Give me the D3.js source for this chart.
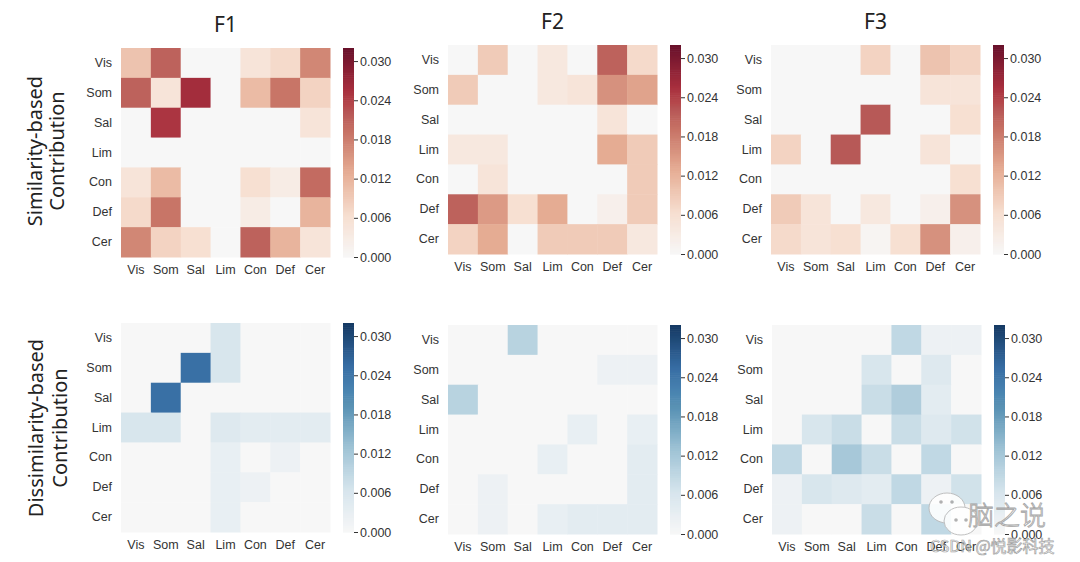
<!DOCTYPE html>
<html><head><meta charset="utf-8">
<script src="https://cdn.jsdelivr.net/npm/d3@7"></script>
<style>body{margin:0;background:#fff;} svg{display:block;}</style>
</head><body>
<svg id="chart" width="1080" height="562"></svg>
<script>
const labels = ["Vis","Som","Sal","Lim","Con","Def","Cer"];
const colTitles = ["F1","F2","F3"];
const rowTitles = [["Similarity-based","Contribution"],["Dissimilarity-based","Contribution"]];
const cbTicks = [0.000,0.006,0.012,0.018,0.024,0.030];
const vmax = 0.032;

const simF1 = [
 [0.010,0.021,0,0,0.005,0.007,0.017],
 [0.021,0.005,0.026,0,0.011,0.019,0.008],
 [0,0.025,0,0,0,0,0.005],
 [0,0,0,0,0,0,0],
 [0.005,0.011,0,0,0.006,0.003,0.020],
 [0.007,0.019,0,0,0.003,0,0.012],
 [0.017,0.008,0.006,0,0.021,0.012,0.005]];
const simF2 = [
 [0,0.009,0,0.004,0,0.021,0.007],
 [0.009,0,0,0.004,0.005,0.016,0.014],
 [0,0,0,0,0,0.005,0],
 [0.004,0.004,0,0,0,0.013,0.009],
 [0,0.005,0,0,0,0,0.009],
 [0.021,0.015,0.006,0.013,0,0.002,0.009],
 [0.008,0.013,0,0.009,0.009,0.009,0.004]];
const simF3 = [
 [0,0,0,0.008,0,0.010,0.008],
 [0,0,0,0,0,0.005,0.005],
 [0,0,0,0.022,0,0,0.006],
 [0.008,0,0.022,0,0,0.005,0],
 [0,0,0,0,0,0,0.006],
 [0.009,0.005,0,0.004,0,0.002,0.016],
 [0.007,0.005,0.006,0.001,0.006,0.016,0.002]];
const disF1 = [
 [0,0,0,0.006,0,0,0],
 [0,0,0.025,0.006,0,0,0],
 [0,0.025,0,0,0,0,0],
 [0.006,0.006,0,0.005,0.004,0.004,0.004],
 [0,0,0,0.003,0,0.002,0],
 [0,0,0,0.003,0.002,0,0],
 [0,0,0,0.003,0,0,0]];
const disF2 = [
 [0,0,0.010,0,0,0,0],
 [0,0,0,0,0,0.002,0.002],
 [0.010,0,0,0,0,0,0],
 [0,0,0,0,0.003,0,0.003],
 [0,0,0,0.003,0,0,0.004],
 [0,0.002,0,0,0,0,0.004],
 [0,0.002,0,0.003,0.004,0.004,0.004]];
const disF3 = [
 [0,0,0,0,0.009,0.002,0.002],
 [0,0,0,0.006,0,0.005,0],
 [0,0,0,0.008,0.011,0.004,0],
 [0,0.006,0.008,0,0.008,0.005,0.007],
 [0.009,0,0.012,0.008,0,0.009,0],
 [0.002,0.006,0.005,0.004,0.009,0.002,0.007],
 [0.002,0,0,0.008,0,0.009,0]];

const panels = [
 {data:simF1, kind:"red", x:121, y:48},
 {data:simF2, kind:"red", x:448, y:45},
 {data:simF3, kind:"red", x:771, y:45},
 {data:disF1, kind:"blue", x:121, y:323},
 {data:disF2, kind:"blue", x:448, y:325},
 {data:disF3, kind:"blue", x:772, y:325}];

const svg = d3.select("#chart");
const size = 209;
// matplotlib RdBu_r halves (linear segments), slightly muted like the reference image
const redStops = ["#f7f7f7","#fddbc7","#f4a582","#d6604d","#b2182b","#67001f"];
const blueStops = ["#f7f7f7","#d1e5f0","#92c5de","#4393c3","#2166ac","#053061"];
const mkScale = stops => {
  const s = d3.scaleLinear()
    .domain(stops.map((_,i)=>vmax*i/(stops.length-1)))
    .range(stops).interpolate(d3.interpolateRgb).clamp(true);
  return v => { const c = d3.hsl(s(v)); c.s *= 0.74; c.l = c.l + (1-c.l)*0.04; return c.formatHex(); };
};
const redScale = mkScale(redStops);
const blueScale = mkScale(blueStops);
const tickFont = "'Liberation Sans', Arial, sans-serif";

panels.forEach((p,pi)=>{
  const color = p.kind==="red" ? redScale : blueScale;
  const g = svg.append("g").attr("transform",`translate(${p.x},${p.y})`);
  const x = d3.scaleBand().domain(labels).range([0,size]);
  const y = d3.scaleBand().domain(labels).range([0,size]);
  p.data.forEach((row,ri)=>{
    row.forEach((v,ci)=>{
      g.append("rect")
        .attr("x",x(labels[ci])).attr("y",y(labels[ri]))
        .attr("width",x.bandwidth()+0.5).attr("height",y.bandwidth()+0.5)
        .attr("fill",color(v));
    });
  });
  const xa = g.append("g").attr("transform",`translate(0,${size})`)
    .call(d3.axisBottom(x).tickSize(0).tickPadding(8));
  const ya = g.append("g").call(d3.axisLeft(y).tickSize(0).tickPadding(9));
  [xa,ya].forEach(a=>{
    a.select(".domain").remove();
    a.selectAll("text").attr("font-family",tickFont).attr("font-size",12.5).attr("fill","#333");
  });
  // colorbar
  const cbx = 222, cbw = 11;
  const cs = d3.scaleLinear().domain([0,vmax]).range([size,0]);
  const n = 100;
  const cb = g.append("g").attr("transform",`translate(${cbx},0)`);
  d3.range(n).forEach(i=>{
    const v0 = vmax*i/n, v1 = vmax*(i+1)/n;
    cb.append("rect").attr("x",0).attr("width",cbw)
      .attr("y",cs(v1)).attr("height",cs(v0)-cs(v1)+0.6)
      .attr("fill",color((v0+v1)/2));
  });
  const ca = cb.append("g").attr("transform",`translate(${cbw},0)`)
    .call(d3.axisRight(cs).tickValues(cbTicks).tickFormat(d3.format(".3f")).tickSize(4).tickPadding(2));
  ca.select(".domain").remove();
  ca.selectAll("line").attr("stroke","#333");
  ca.selectAll("text").attr("font-family",tickFont).attr("font-size",12.5).attr("fill","#333");
  if(pi<3){
    svg.append("text").attr("x",p.x+size/2).attr("y",p.y-16)
      .attr("text-anchor","middle").attr("font-family","'Noto Sans', sans-serif")
      .attr("font-size",21).attr("fill","#222").text(colTitles[pi]);
  }
});

// row titles
[[35,57,151],[36,60,428]].forEach((pos,ri)=>{
  rowTitles[ri].forEach((t,li)=>{
    svg.append("text")
      .attr("transform",`translate(${pos[li]+7},${pos[2]}) rotate(-90)`)
      .attr("text-anchor","middle").attr("font-family","'Noto Sans', sans-serif")
      .attr("font-size",20).attr("fill","#222").text(t);
  });
});

// watermark (overlay present in the reference image)
const wm = svg.append("g").attr("opacity",0.9);
wm.append("ellipse").attr("cx",947).attr("cy",508).attr("rx",18).attr("ry",15).attr("fill","#fff").attr("stroke","#bbb").attr("stroke-width",1);
wm.append("ellipse").attr("cx",961).attr("cy",521).attr("rx",17).attr("ry",14).attr("fill","#fff").attr("stroke","#bbb").attr("stroke-width",1);
[[941,502],[952,502],[956,520],[966,520]].forEach(d=>wm.append("circle").attr("cx",d[0]).attr("cy",d[1]).attr("r",1.8).attr("fill","#aaa"));
wm.append("text").attr("x",968).attr("y",525).attr("font-family","'Noto Sans CJK SC', sans-serif")
  .attr("font-size",26).attr("font-weight",300).attr("fill","#fff").attr("stroke","#999").attr("stroke-width",0.8).text("脑之说");
wm.append("text").attr("x",930).attr("y",552).attr("font-family","'Noto Sans CJK SC', sans-serif")
  .attr("font-size",16).attr("fill","rgba(255,255,255,0.6)").attr("stroke","#999").attr("stroke-width",0.7).text("CSDN @悦影科技");
</script>
</body></html>
